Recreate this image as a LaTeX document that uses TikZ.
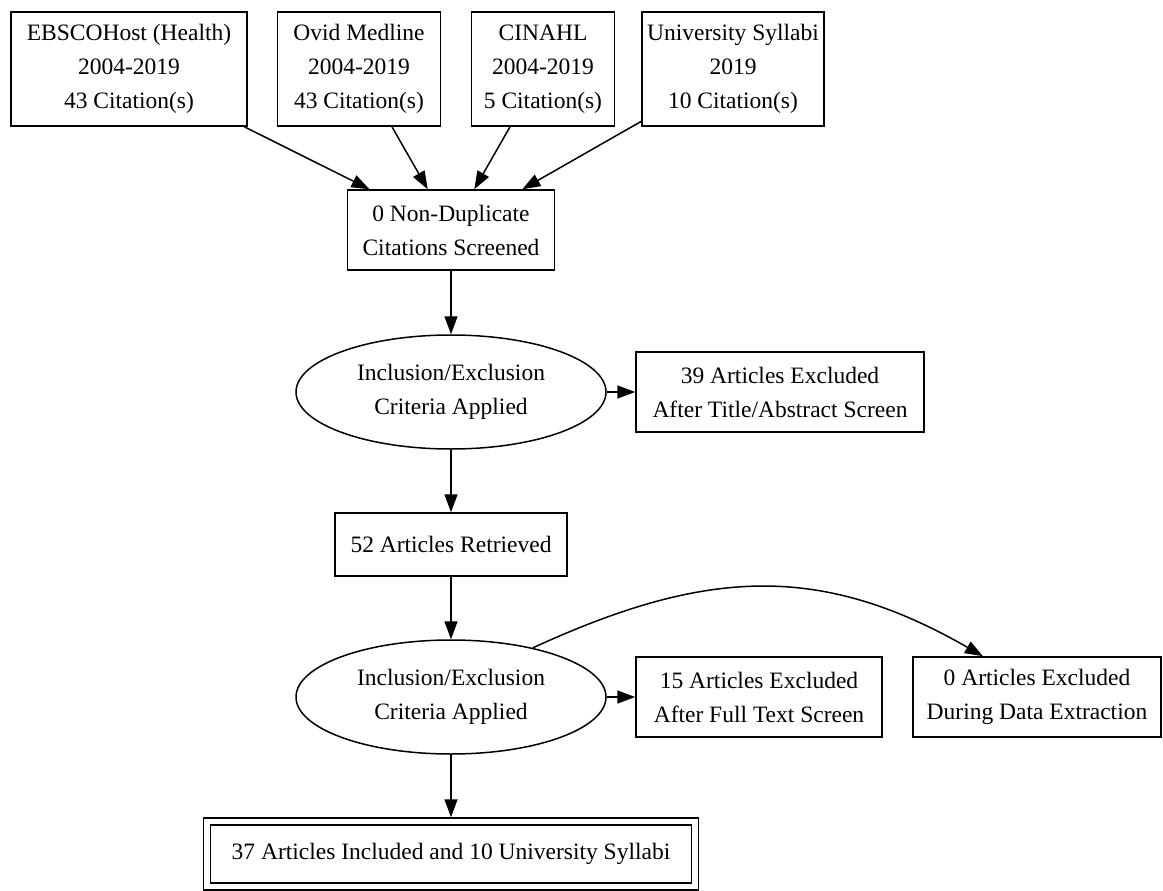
\documentclass[tikz,border=0pt]{standalone}
\usepackage{fontspec}
\setmainfont{Liberation Serif}
\usetikzlibrary{arrows.meta,shapes.geometric}
\begin{document}
\begin{tikzpicture}[x=1pt,y=-1pt,
  every node/.style={font=\fontsize{23.5}{34}\selectfont, align=center, line width=1.5pt},
  box/.style={draw, rectangle, inner xsep=5pt, inner ysep=4pt},
  oval/.style={draw, ellipse, minimum width=310pt, minimum height=114pt, inner sep=0pt},
  dbox/.style={draw, rectangle, double, double distance=5.5pt, outer sep=4.25pt, inner xsep=6pt},
  arr/.style={line width=1.5pt, -{Triangle[length=18pt,width=13pt]}}
]
\path[fill=white] (0,0) rectangle (1163,891);
\useasboundingbox (0,0) rectangle (1163,891);

\node[box, minimum width=236pt, minimum height=114pt] (ebsco) at (129,69) {EBSCOHost (Health)\\2004-2019\\43 Citation(s)};
\node[box, minimum width=163pt, minimum height=114pt] (ovid) at (359,69) {Ovid Medline\\2004-2019\\43 Citation(s)};
\node[box, minimum width=143pt, minimum height=114pt] (cinahl) at (543,69) {CINAHL\\2004-2019\\5 Citation(s)};
\node[box, minimum width=176pt, minimum height=114pt] (univ) at (733,69) {University Syllabi\\2019\\10 Citation(s)};

\node[box, minimum width=207pt, minimum height=80pt] (nd) at (451,230) {0 Non-Duplicate\\Citations Screened};
\node[oval] (e1) at (451,392) {Inclusion/Exclusion\\Criteria Applied};
\node[box, minimum width=288pt, minimum height=80pt] (ex1) at (780,392) {39 Articles Excluded\\After Title/Abstract Screen};
\node[box, minimum width=232pt, minimum height=63pt] (r52) at (451,544.5) {52 Articles Retrieved};
\node[oval] (e2) at (451,697) {Inclusion/Exclusion\\Criteria Applied};
\node[box, minimum width=246pt, minimum height=80pt] (ex2) at (759,697) {15 Articles Excluded\\After Full Text Screen};
\node[box, minimum width=248pt, minimum height=80pt] (ex3) at (1037,697) {0 Articles Excluded\\During Data Extraction};
\node[dbox, minimum width=488pt, minimum height=65pt] (fin) at (451,854) {37 Articles Included and 10 University Syllabi};

\draw[arr] (ebsco) -- (nd);
\draw[arr] (ovid) -- (nd);
\draw[arr] (cinahl) -- (nd);
\draw[arr] (univ) -- (nd);
\draw[arr] (nd) -- (e1);
\draw[arr] (e1) -- (ex1);
\draw[arr] (e1) -- (r52);
\draw[arr] (r52) -- (e2);
\draw[arr] (e2) -- (ex2);
\draw[arr] (e2.31) .. controls +(170,-78) and +(-165,-95) .. (ex3.143);
\draw[arr] (e2) -- (fin);
\end{tikzpicture}
\end{document}
